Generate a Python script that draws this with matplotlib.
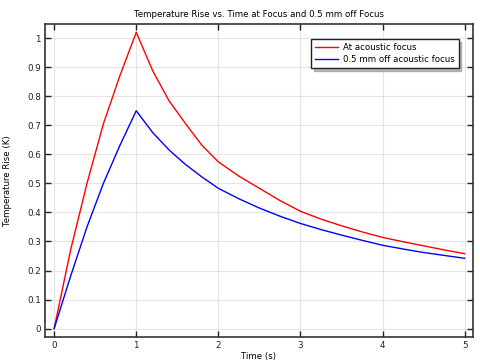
import matplotlib
matplotlib.use("Agg")
import matplotlib.pyplot as plt
import numpy as np

t_rise = [0.0, 0.2, 0.4, 0.6, 0.8, 1.0]
t_decay = [1.2, 1.4, 1.6, 1.8, 2.0, 2.25, 2.5, 2.75, 3.0, 3.25, 3.5, 3.75,
           4.0, 4.25, 4.5, 4.75, 5.0]
time = t_rise + t_decay

at_focus = [0.0, 0.27, 0.50, 0.705, 0.87, 1.02,
            0.888, 0.784, 0.706, 0.631, 0.574, 0.525, 0.483, 0.441, 0.404,
            0.377, 0.354, 0.333, 0.314, 0.299, 0.285, 0.271, 0.258]
off_focus = [0.0, 0.18, 0.35, 0.50, 0.63, 0.75,
             0.675, 0.615, 0.565, 0.522, 0.483, 0.447, 0.415, 0.387, 0.362,
             0.341, 0.322, 0.304, 0.287, 0.274, 0.262, 0.252, 0.242]

labels = ["At acoustic focus", "0.5 mm off acoustic focus"]

plt.rcParams['font.family'] = ['DejaVu Sans']
fig = plt.figure(figsize=(4.8, 3.62), dpi=100)
ax = fig.add_axes([0.094, 0.069, 0.891, 0.865])

ax.plot(time, at_focus, color='#ff0000', lw=1.0, label=labels[0])
ax.plot(time, off_focus, color='#0000ff', lw=1.0, label=labels[1])

ax.set_xlim(-0.11, 5.1)
ax.set_ylim(-0.029, 1.049)
ax.set_xticks(np.arange(0, 6, 1))
ax.set_yticks(np.round(np.arange(0, 1.01, 0.1), 1))
ax.set_yticklabels(['0', '0.1', '0.2', '0.3', '0.4', '0.5', '0.6', '0.7', '0.8', '0.9', '1'])
ax.grid(True, color='#e4e4e4', lw=0.8)
ax.set_axisbelow(True)
ax.tick_params(direction='in', top=True, right=True, length=4, width=1,
               labelsize=6.3, colors='#222222', pad=3)
for s in ax.spines.values():
    s.set_color('#333333')
    s.set_linewidth(1.2)

ax.set_title("Temperature Rise vs. Time at Focus and 0.5 mm off Focus", fontsize=6.2, pad=5)
ax.set_xlabel("Time (s)", fontsize=6.2, labelpad=1)
ax.set_ylabel("Temperature Rise (K)", fontsize=6.2, labelpad=11)

leg = ax.legend(loc='upper right', fontsize=6.2, frameon=True, fancybox=False,
                shadow={'color': '0.55', 'alpha': 0.6}, borderpad=0.45,
                handlelength=2.7, handletextpad=0.6,
                bbox_to_anchor=(0.977, 0.965), labelspacing=0.35)
leg.get_frame().set_edgecolor('#222222')
leg.get_frame().set_linewidth(1.0)

fig.savefig("out.png", dpi=100)
